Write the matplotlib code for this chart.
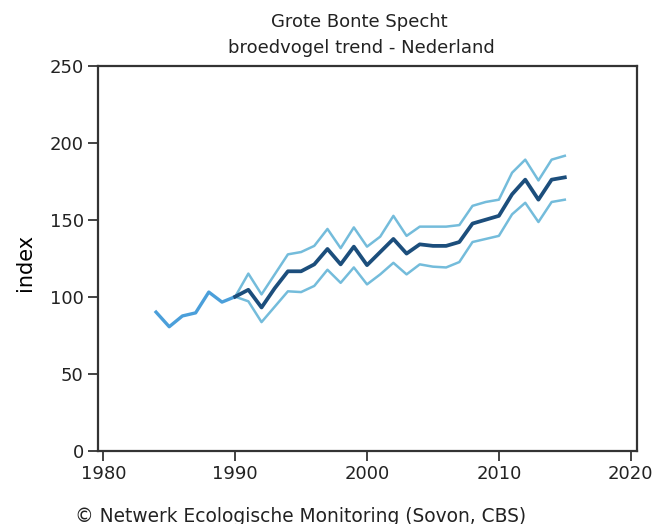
import matplotlib
matplotlib.use("Agg")
import matplotlib.pyplot as plt

# early series (before 1990)
early_years = [1984, 1985, 1986, 1987, 1988, 1989, 1990]
early_index = [90, 80.5, 87.5, 89.5, 103, 96.5, 100]

# trend with confidence limits (1990-2015)
years = list(range(1990, 2016))
index = [100, 104.5, 93, 105.5, 116.5, 116.5, 121, 131, 121, 132.5, 120.5, 129, 137.5,
         128, 134, 133, 133, 135.5, 147.5, 150, 152.5, 166.5, 176, 163, 176, 177.5]
upper = [100, 115, 101.5, 114.5, 127.5, 129, 133, 144, 131.5, 145, 132.5, 139, 152.5,
         139.5, 145.5, 145.5, 145.5, 146.5, 159, 161.5, 163, 180.5, 189, 175.5, 189, 191.5]
lower = [100, 97, 83.5, 93.5, 103.5, 103, 107, 117.5, 109, 119, 108, 114.5, 122,
         114.5, 121, 119.5, 119, 122.5, 135.5, 137.5, 139.5, 153.5, 161, 148.5, 161.5, 163]

x_ticks = [1980, 1990, 2000, 2010, 2020]
y_ticks = [0, 50, 100, 150, 200, 250]

title_lines = ["Grote Bonte Specht", "broedvogel trend - Nederland"]
y_label = "index"
credit = "\u00a9 Netwerk Ecologische Monitoring (Sovon, CBS)"

plt.rcParams['font.family'] = ['DejaVu Sans']

fig = plt.figure(figsize=(6.54, 5.24), dpi=100)
ax = fig.add_axes([0.1503, 0.1399, 0.8232, 0.7347])

band_color = "#74bcdb"
main_color = "#1c4e7c"
early_color = "#4b9fda"

ax.plot(years, upper, color=band_color, lw=1.8, solid_joinstyle='round')
ax.plot(years, lower, color=band_color, lw=1.8, solid_joinstyle='round')
ax.plot(early_years, early_index, color=early_color, lw=2.4, solid_joinstyle='round')
ax.plot(years, index, color=main_color, lw=2.7, solid_joinstyle='round')

ax.set_xlim(1979.62, 2020.45)
ax.set_ylim(0, 250)
ax.set_xticks(x_ticks)
ax.set_yticks(y_ticks)
ax.tick_params(direction='out', length=7, width=1.2, labelsize=13, colors='#222222')
for s in ax.spines.values():
    s.set_linewidth(1.6)
    s.set_color('#333333')

ax.set_ylabel(y_label, fontsize=15)
ax.yaxis.set_label_coords(-0.118, 0.49)

fig.text(359 / 654, 1 - 22 / 524, title_lines[0], ha='center', va='center', fontsize=13, color='#222222')
fig.text(361 / 654, 1 - 48 / 524, title_lines[1], ha='center', va='center', fontsize=13, color='#222222')
fig.text(75 / 654, 1 - 516 / 524, credit, ha='left', va='center', fontsize=13.4, color='#222222')

fig.savefig("out.png", dpi=100)
